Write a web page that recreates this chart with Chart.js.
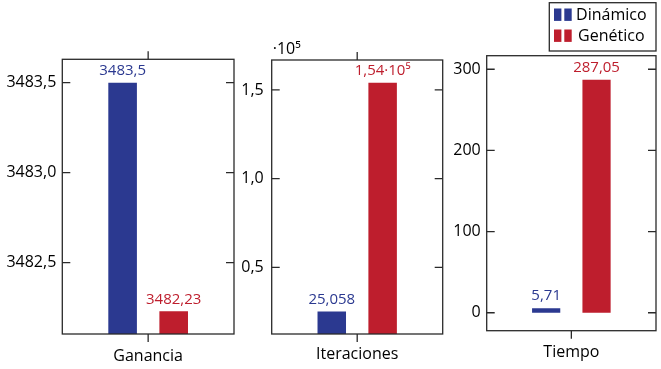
<!DOCTYPE html>
<html>
<head>
<meta charset="utf-8">
<script src="https://cdn.jsdelivr.net/npm/chart.js@4.4.0/dist/chart.umd.min.js"></script>
<style>
  html, body { margin: 0; padding: 0; background: #fff; }
  #wrap { position: relative; width: 661px; height: 369px; overflow: hidden; }
  canvas { position: absolute; top: 0; }
</style>
</head>
<body>
<div id="wrap">
  <canvas id="c1" width="240" height="369" style="left:0px"></canvas>
  <canvas id="c2" width="210" height="369" style="left:240px"></canvas>
  <canvas id="c3" width="211" height="369" style="left:450px"></canvas>
</div>
<script>
// ---- data ----
const categories = ['Ganancia', 'Iteraciones', 'Tiempo'];
const seriesNames = ['Dinámico', 'Genético'];
const dinamico = [3483.5, 25058, 5.71];
const genetico = [3482.23, 154000, 287.05];
const dinamicoLabels = ['3483,5', '25,058', '5,71'];
const geneticoLabels = ['3482,23', '1,54·10⁵', '287,05'];
const yTicks1 = [3482.5, 3483.0, 3483.5];
const yTicks2 = [50000, 100000, 150000];
const yTicks3 = [0, 100, 200, 300];
const yTickLabels1 = ['3482,5', '3483,0', '3483,5'];
const yTickLabels2 = ['0,5', '1,0', '1,5'];
const yTickLabels3 = ['0', '100', '200', '300'];
const yRange1 = [3482.104, 3483.63];
const yRange2 = [12380, 166900];
const yRange3 = [-22.1, 316.7];
const axisMultiplierText = '·10⁵';

// ---- style ----
const BLUE = '#2b3990';
const RED = '#be1e2d';
const FONT = '"Open Sans", "Liberation Sans", sans-serif';
const LINE = '#2a2a2a';

const panels = [
  { id: 'c1', cat: 0, ticks: yTicks1, tickLabels: yTickLabels1, range: yRange1,
    yWidth: 62.3, padRight: 6, padTop: 59.3, xHeight: 35, yPad: 6, xPad: 12.5, topTick: true },
  { id: 'c2', cat: 1, ticks: yTicks2, tickLabels: yTickLabels2, range: yRange2,
    yWidth: 31.7, padRight: 7.3, padTop: 60, xHeight: 35, yPad: 8, xPad: 10.5, topTick: true, multiplier: true },
  { id: 'c3', cat: 2, ticks: yTicks3, tickLabels: yTickLabels3, range: yRange3,
    yWidth: 36.7, padRight: 5, padTop: 55.7, xHeight: 38.3, yPad: 6, xPad: 12.5, topTick: false, legend: true }
];

const decorPlugin = {
  id: 'decor',
  afterDraw(chart, args, o) {
    const ctx = chart.ctx;
    const a = chart.chartArea;
    const ys = chart.scales.y;
    const xs = chart.scales.x;
    ctx.save();
    // frame
    ctx.strokeStyle = LINE;
    ctx.lineWidth = 1.3;
    ctx.strokeRect(a.left, a.top, a.right - a.left, a.bottom - a.top);
    // inner y ticks on both sides
    ys.ticks.forEach(t => {
      const py = ys.getPixelForValue(t.value);
      ctx.beginPath();
      ctx.moveTo(a.left, py); ctx.lineTo(a.left + 8, py);
      ctx.moveTo(a.right, py); ctx.lineTo(a.right - 8, py);
      ctx.stroke();
    });
    // category ticks outside
    const cx = xs.getPixelForValue(0);
    ctx.beginPath();
    ctx.moveTo(cx, a.bottom); ctx.lineTo(cx, a.bottom + 8);
    if (o.topTick) { ctx.moveTo(cx, a.top); ctx.lineTo(cx, a.top - 8); }
    ctx.stroke();
    // bar value labels
    ctx.font = '15px ' + FONT;
    ctx.textAlign = 'center';
    ctx.textBaseline = 'middle';
    chart.data.datasets.forEach((ds, i) => {
      const el = chart.getDatasetMeta(i).data[0];
      ctx.fillStyle = ds.backgroundColor;
      ctx.fillText(ds.valueLabel, el.x, el.y - 12);
    });
    // axis multiplier
    if (o.multiplier) {
      ctx.fillStyle = '#000';
      ctx.textAlign = 'left';
      ctx.textBaseline = 'alphabetic';
      ctx.font = '16px ' + FONT;
      ctx.fillText(axisMultiplierText, a.left + 1, a.top - 6);
    }
    // legend
    if (o.legend) {
      const bx = 549.3 - 450, by = 2.7, bw = a.right - (549.3 - 450), bh = 48.3;
      ctx.fillStyle = '#fff';
      ctx.fillRect(bx, by, bw, bh);
      ctx.strokeStyle = LINE;
      ctx.lineWidth = 1.3;
      ctx.strokeRect(bx, by, bw, bh);
      ctx.font = '16px ' + FONT;
      ctx.textAlign = 'center';
      ctx.textBaseline = 'middle';
      chart.data.datasets.forEach((ds, i) => {
        const cy = by + 12 + i * 21;
        ctx.fillStyle = ds.backgroundColor;
        ctx.fillRect(bx + 4.7, cy - 6.2, 7.4, 12.4);
        ctx.fillRect(bx + 15, cy - 6.2, 7.4, 12.4);
        ctx.fillStyle = '#000';
        ctx.fillText(ds.label, bx + 62, cy + 1);
      });
    }
    ctx.restore();
  }
};

panels.forEach(p => {
  const canvas = document.getElementById(p.id);
  new Chart(canvas, {
    type: 'bar',
    data: {
      labels: [categories[p.cat]],
      datasets: [
        { label: seriesNames[0], data: [dinamico[p.cat]], valueLabel: dinamicoLabels[p.cat],
          backgroundColor: BLUE, borderWidth: 0 },
        { label: seriesNames[1], data: [genetico[p.cat]], valueLabel: geneticoLabels[p.cat],
          backgroundColor: RED, borderWidth: 0 }
      ]
    },
    options: {
      responsive: false,
      animation: false,
      devicePixelRatio: 1,
      barPercentage: 0.56,
      categoryPercentage: 0.595,
      layout: { padding: { left: 0, right: p.padRight, top: p.padTop, bottom: 0 } },
      plugins: {
        legend: { display: false },
        tooltip: { enabled: false },
        decor: { topTick: p.topTick, multiplier: !!p.multiplier, legend: !!p.legend }
      },
      scales: {
        x: {
          grid: { display: false, drawTicks: false },
          border: { display: false },
          ticks: { color: '#000', font: { family: FONT, size: 16 }, padding: p.xPad },
          afterFit: s => { s.height = p.xHeight; }
        },
        y: {
          min: p.range[0],
          max: p.range[1],
          grid: { display: false, drawTicks: false },
          border: { display: false },
          afterBuildTicks: s => { s.ticks = p.ticks.map(v => ({ value: v })); },
          ticks: {
            color: '#000',
            font: { family: FONT, size: 16 },
            padding: p.yPad,
            callback: (v, i) => p.tickLabels[p.ticks.indexOf(v)]
          },
          afterFit: s => { s.width = p.yWidth; }
        }
      }
    },
    plugins: [decorPlugin]
  });
});
</script>
</body>
</html>
